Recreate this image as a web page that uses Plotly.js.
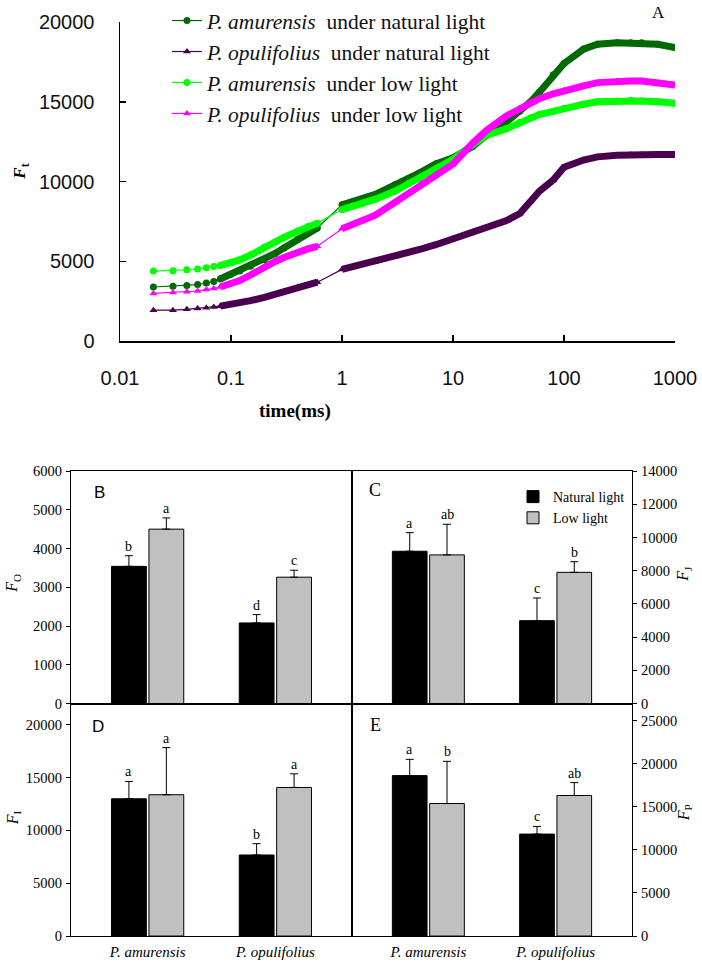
<!DOCTYPE html>
<html><head><meta charset="utf-8">
<script src="https://cdn.plot.ly/plotly-3.0.1.min.js"></script>
<style>html,body{margin:0;padding:0;background:#fff}#chart{width:702px;height:962px}</style>
</head><body><div id="chart"></div>
<script>
// ---------- Panel A : OJIP transients ----------
const timeMs = [0.02,0.03,0.04,0.05,0.06,0.07,0.08,0.1,0.12,0.15,0.2,0.25,0.3,0.4,0.5,0.6,1,1.5,2,3,4,5,7,10,15,20,30,40,50,60,80,100,150,200,300,400,500,700,1000];
const amurNatural = [3400,3450,3500,3550,3650,3750,3900,4200,4400,4700,5100,5500,5850,6400,6800,7100,8550,8900,9200,9800,10200,10550,11100,11500,12200,12900,13700,14400,15000,15600,16700,17400,18300,18600,18700,18700,18700,18600,18400];
const opulNatural = [1950,1950,2000,2050,2100,2150,2200,2300,2400,2550,2750,2950,3150,3400,3550,3700,4500,4800,5000,5300,5550,5750,6050,6400,6850,7100,7550,8000,8750,9400,10100,10900,11350,11550,11650,11700,11700,11700,11700];
const amurLow     = [4400,4420,4480,4530,4600,4680,4750,4900,5100,5400,5900,6200,6500,6900,7200,7400,8250,8600,8900,9400,9900,10200,10800,11400,12300,12900,13300,13700,14000,14200,14400,14600,14850,15000,15050,15100,15050,15000,14900];
const opulLow     = [3000,3050,3100,3150,3250,3300,3400,3600,3800,4150,4700,5000,5250,5600,5800,5950,7050,7500,7900,8700,9300,9700,10400,11100,12400,13200,14100,14600,15000,15200,15500,15700,16000,16200,16300,16300,16300,16200,16050];
const seriesLabels = ['<i>P. amurensis</i>  under natural light','<i>P. opulifolius</i>  under natural light','<i>P. amurensis</i>  under low light','<i>P. opulifolius</i>  under low light'];
const xTickVals = [0.01,0.1,1,10,100,1000];
const xTickText = ['0.01','0.1','1','10','100','1000'];
const yTickValsA = [0,5000,10000,15000,20000];

// ---------- Panels B-E : bar charts ----------
const species = ['P. amurensis','P. opulifolius'];
const FoNatural = [3540,2080], FoNaturalErr = [275,215], FoLow = [4500,3260], FoLowErr = [290,180];
const FoNaturalLetters = ['b','d'], FoLowLetters = ['a','c'];
const FjNatural = [9170,4990], FjNaturalErr = [1120,1365], FjLow = [8950,7900], FjLowErr = [1845,640];
const FjNaturalLetters = ['a','c'], FjLowLetters = ['ab','b'];
const FiNatural = [12990,7670], FiNaturalErr = [1640,1070], FiLow = [13370,14060], FiLowErr = [4460,1290];
const FiNaturalLetters = ['a','b'], FiLowLetters = ['a','a'];
const FpNatural = [18630,11840], FpNaturalErr = [1890,890], FpLow = [15390,16320], FpLowErr = [4900,1500];
const FpNaturalLetters = ['a','c'], FpLowLetters = ['b','ab'];

const W = 702, H = 962;
const px = v => v / W, py = v => 1 - v / H;
const serif = 'Liberation Serif, Times New Roman, serif';
const sans = 'Liberation Sans, Arial, sans-serif';

const colors = ['#006a00','#4a004e','#00ff00','#ff00ff'];
const symbols = ['circle','triangle-up','circle','triangle-up'];
const seriesData = [amurNatural, opulNatural, amurLow, opulLow];
const bandStart = 0.08, thinFrom = 0.6;

const traces = [];
seriesData.forEach((ys, k) => {
  const bx = [], by = [];
  timeMs.forEach((t, i) => {
    if (t < bandStart) return;
    bx.push(t); by.push(ys[i]);
    if (t === thinFrom) { bx.push(null); by.push(null); }
  });
  traces.push({x: bx, y: by, type: 'scatter', mode: 'lines', line: {color: colors[k], width: 7},
    showlegend: false, hoverinfo: 'skip', xaxis: 'x', yaxis: 'y'});
  traces.push({x: timeMs, y: ys, type: 'scatter', mode: 'lines+markers', name: seriesLabels[k],
    line: {color: colors[k], width: 1.2}, marker: {color: colors[k], size: 7, symbol: symbols[k]},
    xaxis: 'x', yaxis: 'y', legend: 'legend'});
});

const panels = [
  {xa:'x2', ya:'y2', nat:FoNatural, natE:FoNaturalErr, low:FoLow, lowE:FoLowErr, natL:FoNaturalLetters, lowL:FoLowLetters, legend:false},
  {xa:'x3', ya:'y3', nat:FjNatural, natE:FjNaturalErr, low:FjLow, lowE:FjLowErr, natL:FjNaturalLetters, lowL:FjLowLetters, legend:true},
  {xa:'x4', ya:'y4', nat:FiNatural, natE:FiNaturalErr, low:FiLow, lowE:FiLowErr, natL:FiNaturalLetters, lowL:FiLowLetters, legend:false},
  {xa:'x5', ya:'y5', nat:FpNatural, natE:FpNaturalErr, low:FpLow, lowE:FpLowErr, natL:FpNaturalLetters, lowL:FpLowLetters, legend:false}
];
const bargap = 0.414, bargroupgap = 0.07;
const off = (1 - bargap) / 4;
const annotations = [];
const errStyle = arr => ({type:'data', array: arr, arrayminus: arr.map(() => 0), symmetric: false, color: '#000', thickness: 1, width: 4});
panels.forEach(p => {
  traces.push({x: species, y: p.nat, type: 'bar', name: 'Natural light', xaxis: p.xa, yaxis: p.ya,
    marker: {color: '#000', line: {color: '#000', width: 1}}, error_y: errStyle(p.natE),
    showlegend: p.legend, legend: 'legend2'});
  traces.push({x: species, y: p.low, type: 'bar', name: 'Low light', xaxis: p.xa, yaxis: p.ya,
    marker: {color: '#c0c0c0', line: {color: '#000', width: 1}}, error_y: errStyle(p.lowE),
    showlegend: p.legend, legend: 'legend2'});
  species.forEach((s, i) => {
    annotations.push({xref: p.xa, yref: p.ya, x: i - off, y: p.nat[i] + p.natE[i], text: p.natL[i],
      showarrow: false, xanchor: 'center', yanchor: 'bottom', yshift: 0, font: {family: serif, size: 14, color: '#000'}});
    annotations.push({xref: p.xa, yref: p.ya, x: i + off, y: p.low[i] + p.lowE[i], text: p.lowL[i],
      showarrow: false, xanchor: 'center', yanchor: 'bottom', yshift: 0, font: {family: serif, size: 14, color: '#000'}});
  });
});

// text labels
const txt = (x, y, text, font, extra) => Object.assign({xref:'paper', yref:'paper', x: px(x), y: py(y), text, showarrow:false, xanchor:'center', yanchor:'middle', font}, extra || {});
annotations.push(txt(658, 11, 'A', {family: serif, size: 17, color:'#000'}));
annotations.push(txt(21, 170, '<b><i>F</i><sub>t</sub></b>', {family: serif, size: 17, color:'#000'}, {textangle: -90}));
annotations.push(txt(295, 410, '<b>time(ms)</b>', {family: serif, size: 19, color:'#000'}));
annotations.push(txt(99, 492, 'B', {family: sans, size: 17, color:'#000'}));
annotations.push(txt(375, 489, 'C', {family: serif, size: 18, color:'#000'}));
annotations.push(txt(98, 726, 'D', {family: sans, size: 17, color:'#000'}));
annotations.push(txt(375, 725, 'E', {family: serif, size: 18, color:'#000'}));
annotations.push(txt(13, 583, '<i>F</i><sub>O</sub>', {family: serif, size: 16, color:'#000'}, {textangle: -90}));
annotations.push(txt(13, 818, '<i>F</i><sub>I</sub>', {family: serif, size: 16, color:'#000'}, {textangle: -90}));
annotations.push(txt(684, 573, '<i>F</i><sub>J</sub>', {family: serif, size: 16, color:'#000'}, {textangle: -90}));
annotations.push(txt(684, 813, '<i>F</i><sub>P</sub>', {family: serif, size: 16, color:'#000'}, {textangle: -90}));

const xB = [px(71), px(352)], xC = [px(352), px(632)];
const yTop = [py(703), py(470)], yBot = [py(936), py(703)];
const barX = (dom, anchor, showLabels) => ({domain: dom, anchor, type: 'category', range: [-0.6, 1.6],
  showline: true, mirror: true, linecolor: '#000', linewidth: 1, ticks: '', showgrid: false, zeroline: false,
  tickvals: species, ticktext: species.map(s => '<i>' + s + '</i>'), showticklabels: showLabels,
  tickfont: {family: serif, size: 15, color: '#000'}, ticklabelstandoff: 2});
const barY = (dom, anchor, range, dtick, side) => ({domain: dom, anchor, range, dtick, side,
  showline: true, mirror: true, linecolor: '#000', linewidth: 1, ticks: 'outside', ticklen: 4, tickcolor: '#000',
  exponentformat: 'none', separatethousands: false, tickformat: 'd',
  showgrid: false, zeroline: false, tickfont: {family: serif, size: 14.5, color: '#000'}, ticklabelstandoff: 1});

const layout = {
  width: W, height: H, margin: {l:0, r:0, t:0, b:0}, paper_bgcolor: '#fff', plot_bgcolor: 'rgba(0,0,0,0)',
  showlegend: true, barmode: 'group', bargap, bargroupgap,
  xaxis: {domain: [px(120), px(675)], anchor: 'y', type: 'log', range: [-2, 3], tickvals: xTickVals, ticktext: xTickText,
    ticks: 'inside', ticklen: 6, tickwidth: 1.5, tickcolor: '#000', showline: true, linecolor: '#000', linewidth: 1.5,
    showgrid: false, zeroline: false, tickfont: {family: sans, size: 20, color: '#111'}, ticklabelstandoff: 18},
  yaxis: {domain: [py(340), py(20)], anchor: 'x', range: [0, 20000], tickvals: yTickValsA, tickformat: 'd', exponentformat: 'none',
    ticks: 'inside', ticklen: 6, tickwidth: 1.5, tickcolor: '#000', showline: true, linecolor: '#000', linewidth: 1.5,
    showgrid: false, zeroline: false, tickfont: {family: sans, size: 20, color: '#111'}, ticklabelstandoff: 20},
  xaxis2: barX(xB, 'y2', false), yaxis2: barY(yTop, 'x2', [0, 6000], 1000, 'left'),
  xaxis3: barX(xC, 'y3', false), yaxis3: barY(yTop, 'x3', [0, 14000], 2000, 'right'),
  xaxis4: barX(xB, 'y4', true), yaxis4: barY(yBot, 'x4', [0, 22000], 5000, 'left'),
  xaxis5: barX(xC, 'y5', true), yaxis5: barY(yBot, 'x5', [0, 27000], 5000, 'right'),
  legend: {x: px(167), y: 1.002, xanchor: 'left', yanchor: 'top', bgcolor: 'rgba(0,0,0,0)', borderwidth: 0,
    font: {family: serif, size: 21.5, color: '#111'}, tracegroupgap: 0},
  legend2: {x: px(513), y: py(480), xanchor: 'left', yanchor: 'top', bgcolor: 'rgba(0,0,0,0)', borderwidth: 0,
    font: {family: serif, size: 14, color: '#000'}, tracegroupgap: 0},
  annotations
};
Plotly.newPlot('chart', traces, layout, {staticPlot: true, displayModeBar: false});
</script></body></html>
